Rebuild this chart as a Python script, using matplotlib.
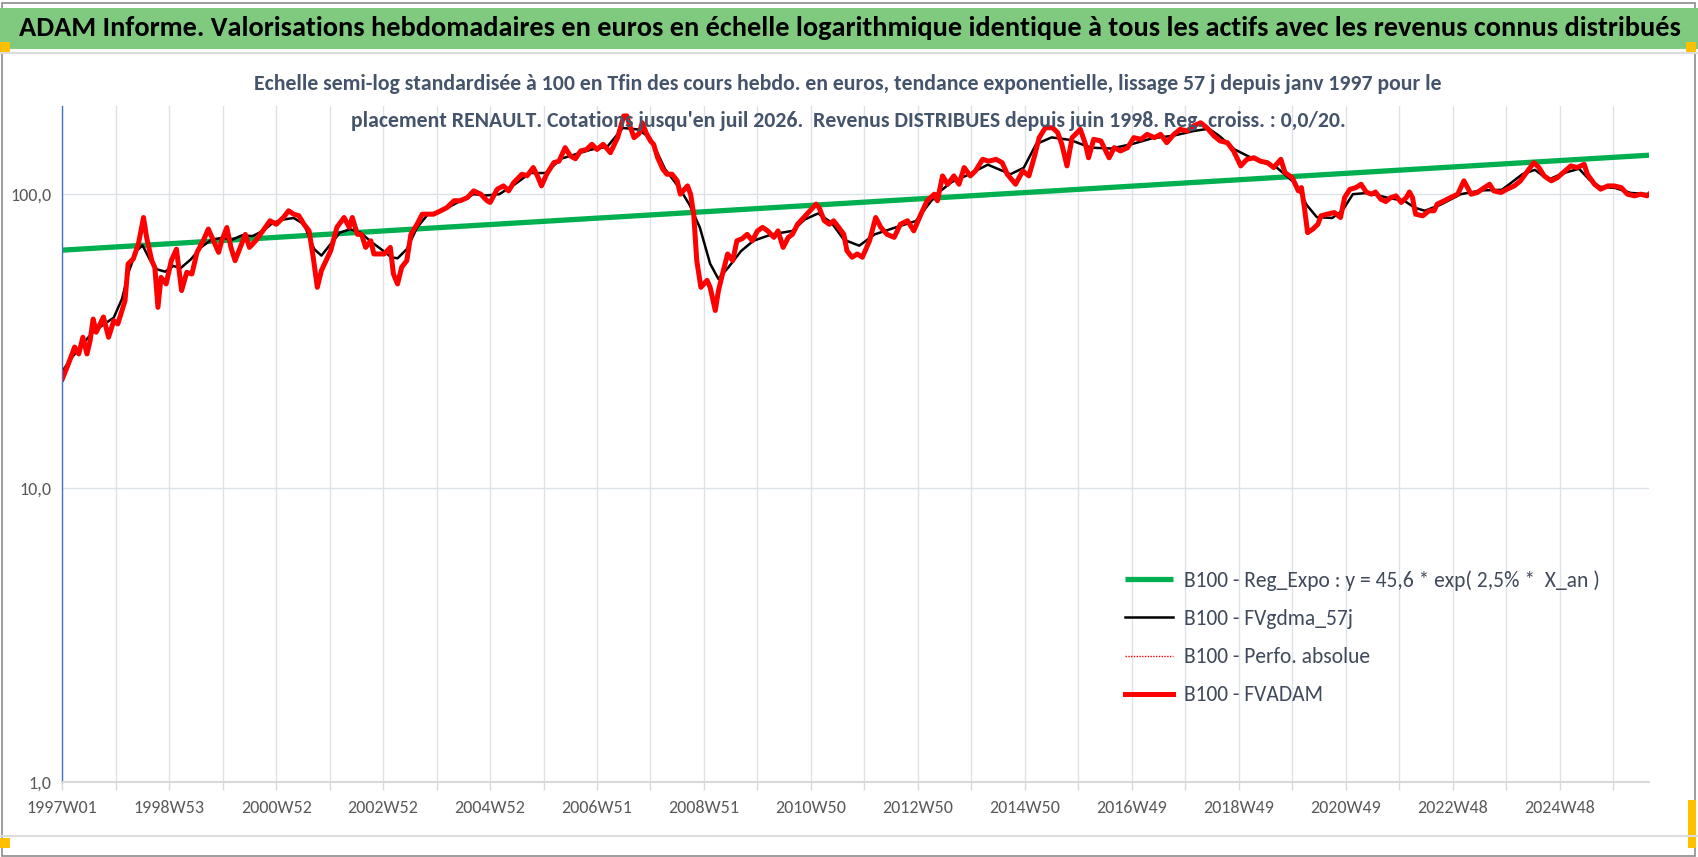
import matplotlib
matplotlib.use("Agg")
import matplotlib.pyplot as plt
from matplotlib import font_manager as fm
from matplotlib.patches import Rectangle
from matplotlib.lines import Line2D

# pick a Calibri-like narrow face if one is there
have = {f.name for f in fm.fontManager.ttflist}
narrow = next((n for n in ['Carlito', 'Liberation Sans Narrow', 'PT Sans Narrow', 'Roboto Condensed',
                           'Archivo Narrow', 'Fira Sans Condensed', 'Open Sans Condensed', 'Liberation Sans']
               if n in have), 'DejaVu Sans')
plt.rcParams['font.family'] = [narrow, 'DejaVu Sans']

# weekly index since 1997W01 and values (base 100 at end)
red_wk = [0, 6, 12, 16, 20, 24, 27, 30, 33, 40, 45, 50, 54, 58, 61, 64, 69, 74, 79, 82,
          87, 90, 93, 96, 101, 106, 111, 116, 121, 126, 131, 137, 142, 147, 152, 155, 160, 164, 168, 173,
          178, 182, 188, 195, 202, 208, 215, 220, 225, 230, 235, 240, 244, 248, 252, 261, 267, 274, 279, 282,
          287, 291, 295, 300, 303, 308, 313, 319, 322, 326, 330, 335, 339, 345, 350, 355, 361, 368, 374, 381,
          387, 394, 400, 407, 413, 416, 423, 429, 434, 439, 447, 452, 458, 462, 466, 471, 478, 483, 489, 494,
          499, 504, 510, 515, 520, 526, 533, 540, 546, 549, 552, 556, 561, 564, 568, 572, 575, 579, 584, 588,
          593, 598, 601, 608, 611, 614, 617, 621, 627, 630, 635, 638, 642, 647, 652, 656, 661, 666, 671, 676,
          681, 686, 692, 696, 701, 706, 710, 715, 721, 727, 733, 736, 741, 746, 750, 755, 760, 763, 768, 773,
          778, 785, 791, 796, 802, 809, 815, 822, 828, 835, 841, 848, 851, 856, 861, 867, 872, 877, 883, 888,
          895, 901, 908, 914, 919, 927, 934, 940, 945, 950, 956, 963, 968, 972, 977, 982, 990, 995, 998, 1003,
          1010, 1018, 1023, 1029, 1036, 1042, 1049, 1055, 1062, 1068, 1074, 1081, 1087, 1094, 1100, 1107, 1113, 1120, 1126, 1133,
          1139, 1146, 1152, 1159, 1165, 1172, 1178, 1185, 1189, 1196, 1202, 1205, 1208, 1211, 1216, 1221, 1224, 1230, 1237, 1243,
          1247, 1252, 1258, 1263, 1268, 1273, 1277, 1282, 1287, 1292, 1297, 1302, 1307, 1310, 1313, 1316, 1323, 1329, 1334, 1337,
          1344, 1350, 1357, 1363, 1370, 1376, 1383, 1388, 1392, 1399, 1405, 1412, 1418, 1425, 1431, 1436, 1441, 1448, 1454, 1461,
          1467, 1473, 1480, 1483, 1490, 1496, 1503, 1509, 1516, 1522, 1529, 1535, 1541, 1543]
red_val = [23.5, 26.5, 30.2, 28.6, 32.6, 28.6, 31.7, 37.6, 33.9, 38.2, 32.6, 37.1, 36.2, 40.1, 43.4, 57.9, 60.2, 67.7, 83.3, 71.3,
           59.4, 56.3, 41.2, 52.1, 49.5, 59.4, 65.0, 47.0, 54.2, 53.5, 63.4, 69.4, 76.1, 69.4, 63.4, 69.4, 77.0, 65.9, 59.4, 65.9,
           73.0, 65.9, 69.4, 75.0, 81.2, 79.0, 83.3, 87.8, 85.5, 84.5, 79.0, 75.0, 61.0, 48.2, 55.0, 64.2, 77.1, 83.3, 77.1, 83.3,
           73.0, 73.0, 65.9, 69.4, 62.6, 62.6, 62.6, 65.9, 53.5, 49.5, 56.4, 59.4, 73.0, 79.0, 85.5, 85.5, 85.5, 87.8, 90.0, 95.0,
           95.0, 97.4, 102.6, 100.0, 95.0, 93.7, 104.0, 106.7, 102.6, 109.5, 116.9, 115.5, 123.2, 115.5, 106.7, 116.9, 128.0, 129.5, 144.0, 134.9,
           132.0, 140.3, 142.0, 147.8, 142.0, 147.8, 138.4, 155.7, 184.6, 184.6, 170.6, 155.7, 161.0, 175.0, 161.0, 151.7, 147.8, 133.0, 121.6, 116.9,
           116.9, 111.0, 100.0, 106.7, 100.0, 85.5, 59.4, 48.2, 50.9, 48.2, 40.2, 46.8, 53.5, 62.6, 59.4, 69.4, 70.5, 73.0, 69.4, 75.0,
           77.1, 75.0, 71.3, 75.0, 65.9, 71.3, 73.0, 79.0, 83.3, 87.8, 92.5, 90.0, 81.2, 79.0, 81.2, 77.1, 73.0, 64.2, 61.0, 62.6,
           61.0, 69.4, 83.3, 77.1, 73.0, 71.3, 79.0, 81.2, 75.0, 85.5, 95.0, 100.0, 95.0, 115.4, 108.0, 115.4, 108.1, 123.2, 115.4, 120.0,
           131.4, 129.5, 131.4, 128.0, 116.9, 108.1, 120.0, 115.4, 133.0, 155.7, 168.3, 168.3, 161.9, 147.8, 124.8, 155.7, 166.2, 147.8, 133.0, 153.7,
           151.7, 133.0, 144.0, 140.3, 144.0, 155.7, 153.7, 159.8, 155.7, 159.8, 149.7, 159.8, 166.2, 164.1, 170.6, 175.0, 168.3, 157.8, 151.7, 149.7,
           140.3, 124.8, 131.4, 133.0, 129.5, 128.0, 123.2, 131.4, 118.4, 113.9, 102.6, 105.3, 89.5, 74.0, 76.0, 79.0, 84.4, 85.5, 86.6, 83.3,
           97.4, 103.8, 105.3, 108.1, 101.7, 100.0, 101.7, 96.2, 94.4, 97.4, 98.7, 93.7, 97.4, 101.7, 97.4, 85.5, 84.4, 87.8, 87.8, 92.5,
           95.0, 97.4, 100.0, 111.0, 100.0, 101.3, 105.3, 108.1, 102.6, 101.3, 104.0, 106.7, 111.0, 120.0, 128.0, 123.2, 115.4, 111.0, 113.9, 119.6,
           124.8, 123.2, 126.4, 117.0, 108.1, 104.0, 106.7, 106.7, 105.3, 100.0, 98.7, 100.0, 98.7, 100.0]

black_wk = [0, 10, 20, 30, 40, 50, 58, 65, 72, 78, 85, 92, 100, 108, 115, 125, 135, 145, 155, 165,
            175, 185, 195, 205, 215, 225, 235, 245, 252, 260, 270, 280, 290, 300, 310, 320, 326, 335, 345, 355,
            370, 385, 400, 412, 425, 440, 455, 470, 485, 500, 515, 530, 545, 560, 572, 586, 600, 610, 620, 630,
            638, 648, 660, 672, 690, 710, 722, 735, 748, 760, 775, 790, 810, 830, 850, 865, 880, 900, 912, 922,
            935, 947, 962, 980, 1000, 1020, 1040, 1060, 1080, 1100, 1115, 1125, 1140, 1160, 1180, 1200, 1210, 1220, 1235, 1245,
            1255, 1270, 1290, 1305, 1315, 1325, 1340, 1360, 1380, 1400, 1420, 1432, 1445, 1460, 1475, 1485, 1495, 1510, 1525, 1543]
black_val = [25, 28, 31, 34, 36, 38, 44, 55, 64, 67, 60, 55.5, 54.5, 57, 56, 60, 66, 70, 71, 70,
             72.5, 72, 75, 80, 82, 83, 79, 65, 61.8, 67, 74, 76, 74, 69, 65, 61, 60.5, 65, 77, 85,
             88, 94, 100, 99, 100, 108, 118, 118, 132, 137, 142, 145, 168, 166, 155, 122, 105, 92, 77, 58,
             51.5, 56.5, 64, 69.4, 73, 75, 82, 86, 80, 70, 66.8, 73, 77, 81, 100, 110, 116, 126, 121, 116.9,
             123, 148, 156, 153, 144, 143, 148, 155, 158, 164, 167, 158, 142, 131, 124, 108, 92, 83.5, 83, 88,
             100, 101, 97, 95, 90, 87.8, 92, 100, 103, 103.5, 117, 121, 112, 118, 122, 112, 106, 105, 101, 100]

green_wk = [0, 1543]
green_val = [64.5, 135.7]

x_labels = ['1997W01', '1998W53', '2000W52', '2002W52', '2004W52', '2006W51', '2008W51', '2010W50',
            '2012W50', '2014W50', '2016W49', '2018W49', '2020W49', '2022W48', '2024W48']
n_weeks = 1543

W, H = 1698, 857
fig = plt.figure(figsize=(W / 100, H / 100), dpi=100)

# frame, banner and little yellow handles
fig.patches.append(Rectangle((0.001, 0.001), 0.997, 0.996, transform=fig.transFigure,
                             fill=False, edgecolor='#8c8c8c', lw=1.2))
fig.patches.append(Rectangle((0, 1 - 49 / H), 1, 41 / H, transform=fig.transFigure,
                             facecolor='#7fca7f', edgecolor='none'))
fig.lines.append(Line2D([0, 1], [1 - 53 / H] * 2, transform=fig.transFigure, color='#dcdcdc', lw=1.5))
fig.lines.append(Line2D([0, 1], [1 - 836 / H] * 2, transform=fig.transFigure, color='#dcdcdc', lw=1.5))
for (x0, y0, w, h) in [(0, 42, 10, 10), (1686, 42, 10, 10), (0, 838, 10, 10), (1688, 800, 8, 48)]:
    fig.patches.append(Rectangle((x0 / W, 1 - (y0 + h) / H), w / W, h / H, transform=fig.transFigure,
                                 facecolor='#ffc000', edgecolor='none'))

fig.text(850 / W, 1 - 28 / H, "ADAM Informe. Valorisations hebdomadaires en euros en échelle logarithmique "
         "identique à tous les actifs avec les revenus connus distribués",
         ha='center', va='center', fontsize=20.4, fontweight='bold', color='black')
fig.text(848 / W, 1 - 84 / H, "Echelle semi-log standardisée à 100 en Tfin des cours hebdo. en euros, tendance "
         "exponentielle, lissage 57 j depuis janv 1997 pour le",
         ha='center', va='center', fontsize=15.7, fontweight='bold', color='#44546a')
fig.text(848 / W, 1 - 121 / H, "placement RENAULT. Cotations jusqu'en juil 2026.  Revenus DISTRIBUES depuis "
         "juin 1998. Reg. croiss. : 0,0/20.",
         ha='center', va='center', fontsize=15.7, fontweight='bold', color='#44546a')

ax = fig.add_axes([62.3 / W, 1 - 782 / H, (1649 - 62.3) / W, (782 - 105.7) / H])
ax.patch.set_alpha(0)

ax.plot(green_wk, green_val, color='#00b050', lw=3.8, solid_capstyle='butt',
        label='B100 - Reg_Expo : y = 45,6 * exp( 2,5% *  X_an )')
ax.plot(black_wk, black_val, color='black', lw=1.8, label='B100 - FVgdma_57j')
ax.plot(red_wk, red_val, color='red', lw=1.0, ls=(0, (1, 1)), label='B100 - Perfo. absolue')
ax.plot(red_wk, red_val, color='red', lw=3.6, solid_joinstyle='round', label='B100 - FVADAM')

ax.set_yscale('log')
ax.set_ylim(1, 200)
ax.set_xlim(0, n_weeks)
ax.set_yticks([1, 10, 100])
ax.set_yticklabels(['1,0', '10,0', '100,0'])
ax.minorticks_off()
ax.set_xticks(range(0, n_weeks, 52))
ax.set_xticklabels([x_labels[i // 2] if i % 2 == 0 else '' for i in range(len(range(0, n_weeks, 52)))])

ax.grid(True, color='#dde1e8', lw=1.0)
ax.set_axisbelow(True)
for s in ['top', 'right']:
    ax.spines[s].set_visible(False)
ax.spines['left'].set_color('#4472c4')
ax.spines['left'].set_linewidth(1.0)
ax.spines['bottom'].set_color('#d9d9d9')
ax.spines['bottom'].set_linewidth(1.5)
ax.tick_params(axis='x', length=6, width=1, color='#d9d9d9', labelsize=13, labelcolor='#595959', pad=7)
ax.tick_params(axis='y', length=0, labelsize=13, labelcolor='#595959', pad=8)

leg = ax.legend(loc='upper left', bbox_to_anchor=(1125 / W, 1 - 570 / H), bbox_transform=fig.transFigure,
                frameon=False, fontsize=15.5, handlelength=2.25, handletextpad=0.5, labelspacing=0.85,
                borderpad=0, borderaxespad=0)
for t in leg.get_texts():
    t.set_color('#404a5a')

fig.savefig('out.png', dpi=100)
